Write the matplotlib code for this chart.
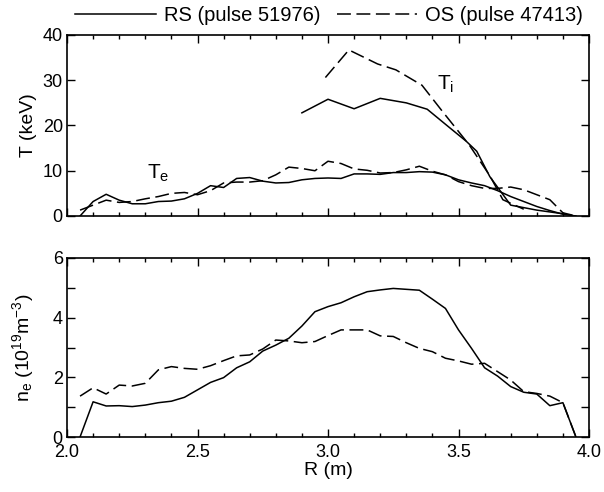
import matplotlib
matplotlib.use("Agg")
import matplotlib.pyplot as plt
from matplotlib.lines import Line2D
from matplotlib.ticker import MultipleLocator

plt.rcParams['font.family'] = ['Liberation Sans', 'DejaVu Sans']
plt.rcParams['mathtext.fontset'] = 'custom'
plt.rcParams['mathtext.rm'] = 'Liberation Sans'
plt.rcParams['mathtext.default'] = 'regular'
plt.rcParams['lines.scale_dashes'] = False

# ---- data ----
R_grid = [2.05, 2.10, 2.15, 2.20, 2.25, 2.30, 2.35, 2.40, 2.45, 2.50, 2.55, 2.60, 2.65,
          2.70, 2.75, 2.80, 2.85, 2.90, 2.95, 3.00, 3.05, 3.10, 3.15, 3.20, 3.25, 3.30,
          3.35, 3.40, 3.45, 3.50, 3.55, 3.60, 3.65, 3.70, 3.75, 3.80, 3.85, 3.90, 3.95]

Te_RS = [0.0, 3.2, 4.8, 3.5, 2.7, 2.7, 3.2, 3.3, 3.8, 5.0, 6.7, 6.3, 8.3,
         8.5, 7.7, 7.3, 7.4, 8.0, 8.3, 8.4, 8.3, 9.3, 9.3, 9.2, 9.6, 9.6,
         9.8, 9.7, 9.1, 8.0, 7.3, 6.7, 5.6, 4.3, 3.2, 2.1, 1.2, 0.4, 0.0]

Te_OS = [1.3, 2.4, 3.5, 3.0, 3.2, 3.8, 4.3, 5.0, 5.2, 4.7, 5.6, 7.3, 7.5,
         7.5, 7.8, 9.1, 10.8, 10.5, 10.0, 12.1, 11.6, 10.4, 10.1, 9.5, 9.6, 10.2,
         11.0, 9.9, 9.1, 7.6, 6.7, 6.1, 6.1, 6.4, 5.8, 4.7, 3.6, 0.7, 0.0]

R_Ti_RS = [2.90, 3.00, 3.10, 3.20, 3.30, 3.38, 3.46, 3.53, 3.57, 3.62, 3.70, 3.80, 3.90]
Ti_RS = [22.8, 25.8, 23.7, 26.0, 25.0, 23.6, 19.8, 16.5, 14.3, 8.7, 2.4, 1.3, 0.5]

R_Ti_OS = [2.99, 3.08, 3.19, 3.26, 3.36, 3.44, 3.54, 3.62, 3.67, 3.75]
Ti_OS = [30.6, 36.7, 33.6, 32.3, 28.9, 23.0, 15.8, 8.9, 3.6, 1.5]

ne_RS = [0.0, 1.18, 1.04, 1.05, 1.02, 1.07, 1.15, 1.20, 1.33, 1.58, 1.83, 1.99, 2.32,
         2.52, 2.88, 3.08, 3.31, 3.72, 4.20, 4.37, 4.50, 4.70, 4.87, 4.93, 4.98, 4.95,
         4.92, 4.62, 4.31, 3.59, 2.97, 2.32, 2.04, 1.69, 1.50, 1.44, 1.05, 1.15, 0.0]

ne_OS = [1.37, 1.65, 1.44, 1.74, 1.71, 1.80, 2.25, 2.36, 2.30, 2.27, 2.39, 2.56, 2.72,
         2.75, 2.95, 3.25, 3.22, 3.16, 3.20, 3.40, 3.59, 3.59, 3.59, 3.39, 3.37, 3.16,
         2.97, 2.86, 2.64, 2.55, 2.44, 2.47, 2.19, 1.91, 1.52, 1.46, 1.37, 1.15, 0.0]

labels = ['RS (pulse 51976)', 'OS (pulse 47413)']
x_ticks = [2.0, 2.5, 3.0, 3.5, 4.0]

DASH = (10, 4)
LW = 1.1

fig = plt.figure(figsize=(6.04, 4.92), dpi=100)
ax1 = fig.add_axes([67/604, 1-216/492, 522/604, 181/492])
ax2 = fig.add_axes([67/604, 1-437/492, 522/604, 179/492])

ax1.plot(R_grid, Te_RS, color='black', lw=LW)
ax1.plot(R_grid, Te_OS, color='black', lw=LW, dashes=DASH)
ax1.plot(R_Ti_RS, Ti_RS, color='black', lw=LW)
ax1.plot(R_Ti_OS, Ti_OS, color='black', lw=LW, dashes=DASH)

ax2.plot(R_grid, ne_RS, color='black', lw=LW)
ax2.plot(R_grid, ne_OS, color='black', lw=LW, dashes=DASH)

for ax in (ax1, ax2):
    ax.set_xlim(2.0, 4.0)
    ax.set_xticks(x_ticks)
    ax.xaxis.set_minor_locator(MultipleLocator(0.1))
    ax.tick_params(which='both', direction='in', top=True, right=True,
                   labelsize=13, width=1.0, pad=3)
    ax.tick_params(which='major', length=6)
    ax.tick_params(which='minor', length=3)
    for s in ax.spines.values():
        s.set_linewidth(1.2)

ax1.set_ylim(0, 40)
ax1.set_yticks([0, 10, 20, 30, 40])
ax1.tick_params(labelbottom=False)
ax1.set_ylabel('T (keV)', fontsize=14, labelpad=4)
ax1.text(2.35, 9.5, 'T$_e$', fontsize=15, ha='center', va='center')
ax1.text(3.45, 29.0, 'T$_i$', fontsize=15, ha='center', va='center')

ax2.set_ylim(0, 6)
ax2.set_yticks([0, 2, 4, 6])
ax2.yaxis.set_minor_locator(MultipleLocator(1))
ax2.tick_params(axis='y', which='minor', length=6)
ax2.tick_params(axis='x', pad=5)
ax2.set_xticklabels(['2.0', '2.5', '3.0', '3.5', '4.0'])
ax2.set_xlabel('R (m)', fontsize=14, labelpad=1)
ax2.set_ylabel('n$_e$ (10$^{19}$m$^{-3}$)', fontsize=14, labelpad=12)

handles = [Line2D([], [], color='black', lw=LW),
           Line2D([], [], color='black', lw=LW, dashes=DASH)]
fig.legend(handles, labels, loc='upper center', bbox_to_anchor=(0.545, 1.025),
           ncol=2, frameon=False, fontsize=14.5, handlelength=4.0,
           columnspacing=0.8, handletextpad=0.4)

fig.savefig('out.png', dpi=100)
